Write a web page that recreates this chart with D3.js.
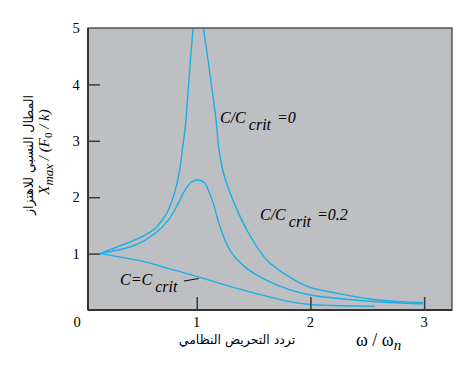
<!DOCTYPE html>
<html><head><meta charset="utf-8">
<script src="https://cdn.jsdelivr.net/npm/d3@7"></script>
<style>body{margin:0;background:#fff}
.serif{font-family:"Liberation Serif","DejaVu Serif","Times New Roman",serif}
.arab{font-family:"DejaVu Sans","Noto Sans",sans-serif}
</style>
</head><body><svg id="c" width="472" height="365"></svg>
<script>
// ---- data ----
const xTicks = [1, 2, 3];
const yTicks = [1, 2, 3, 4];
const yTickLabels = ["1", "2", "3", "4", "5"];
const xTickLabels = ["1", "2", "3"];

const zeta0LeftR = [0.150, 0.340, 0.516, 0.648, 0.736, 0.794, 0.833, 0.859, 0.877, 0.897, 0.919, 0.950, 0.970];
const zeta0LeftV = [1.005, 1.148, 1.295, 1.473, 1.712, 2.007, 2.304, 2.601, 2.897, 3.194, 3.728, 4.564, 5.02];

const zeta0RightR = [1.058, 1.099, 1.135, 1.170, 1.196, 1.240, 1.319, 1.442, 1.618, 1.821, 1.997, 2.201, 2.495, 2.788, 2.993];
const zeta0RightV = [5.02, 4.439, 3.906, 3.372, 2.838, 2.393, 1.948, 1.415, 0.881, 0.578, 0.400, 0.311, 0.205, 0.148, 0.133];

const zeta02R = [0.150, 0.457, 0.633, 0.750, 0.838, 0.897, 0.956, 1.014, 1.073, 1.102, 1.146, 1.205, 1.293, 1.440, 1.616, 1.821, 1.997, 2.199, 2.495, 2.788, 2.990];
const zeta02V = [1.000, 1.148, 1.356, 1.593, 1.890, 2.126, 2.274, 2.304, 2.246, 2.126, 1.890, 1.473, 1.059, 0.738, 0.525, 0.356, 0.267, 0.214, 0.160, 0.125, 0.110];

const critR = [0.150, 0.369, 0.563, 0.765, 0.941, 1.117, 1.293, 1.528, 1.821, 1.997, 2.199, 2.568];
const critV = [1.000, 0.925, 0.845, 0.730, 0.632, 0.525, 0.418, 0.288, 0.148, 0.098, 0.080, 0.068];

// ---- layout ----
const L = 88, R = 452, T = 28, B = 310;
const svg = d3.select("#c");
const x = d3.scaleLinear().domain([0.044, 3.245]).range([L, R]);
const y = d3.scaleLinear().domain([0, 5]).range([B, T]);
const curveCol = "#1aafe6";

svg.append("rect").attr("x", L).attr("y", T).attr("width", R - L).attr("height", B - T)
  .attr("fill", "#bebfc3");

svg.append("clipPath").attr("id", "clip").append("rect")
  .attr("x", L).attr("y", T).attr("width", R - L).attr("height", B - T);

const line = d3.line().x(d => x(d[0])).y(d => y(d[1])).curve(d3.curveCatmullRom.alpha(0.5));
const series = [
  [zeta0LeftR, zeta0LeftV],
  [zeta0RightR, zeta0RightV],
  [zeta02R, zeta02V],
  [critR, critV]
];
const g = svg.append("g").attr("clip-path", "url(#clip)");
series.forEach(([rs, vs]) => {
  g.append("path").datum(rs.map((r, i) => [r, vs[i]]))
    .attr("d", line).attr("fill", "none").attr("stroke", curveCol).attr("stroke-width", 1.4);
});

// axes ticks (inner)
const yAxis = d3.axisRight(y).tickValues(yTicks).tickSize(12).tickFormat("");
svg.append("g").attr("transform", `translate(${L},0)`).call(yAxis)
  .call(s => s.select(".domain").remove())
  .call(s => s.selectAll("line").attr("stroke", "#3a3a3a").attr("stroke-width", 1.5));
const xAxis = d3.axisTop(x).tickValues(xTicks).tickSize(13).tickFormat("");
svg.append("g").attr("transform", `translate(0,${B})`).call(xAxis)
  .call(s => s.select(".domain").remove())
  .call(s => s.selectAll("line").attr("stroke", "#3a3a3a").attr("stroke-width", 1.5));

// frame
svg.append("rect").attr("x", L).attr("y", T).attr("width", R - L).attr("height", B - T)
  .attr("fill", "none").attr("stroke", "#333").attr("stroke-width", 1.2);
svg.append("line").attr("x1", L).attr("x2", L).attr("y1", T).attr("y2", B).attr("stroke", "#333").attr("stroke-width", 2);
svg.append("line").attr("x1", L).attr("x2", R).attr("y1", B).attr("y2", B).attr("stroke", "#333").attr("stroke-width", 2);

// tick labels
const yLabVals = [1, 2, 3, 4, 5];
svg.append("g").selectAll("text").data(yLabVals).join("text")
  .attr("class", "serif")
  .attr("x", 76).attr("y", d => y(d)).attr("dy", "0.36em")
  .attr("text-anchor", "middle").style("font-size", "14.5px")
  .text((d, i) => yTickLabels[i]);
svg.append("g").selectAll("text").data(xTicks).join("text")
  .attr("class", "serif")
  .attr("x", d => x(d)).attr("y", 327)
  .attr("text-anchor", "middle").style("font-size", "14.5px")
  .text((d, i) => xTickLabels[i]);
svg.append("text").attr("class", "serif").attr("x", 77).attr("y", 327).attr("text-anchor", "middle")
  .style("font-size", "14.5px").text("0");

// x title
svg.append("text").attr("class", "arab").attr("x", 237).attr("y", 344).attr("text-anchor", "middle")
  .style("font-size", "12.5px").attr("direction", "rtl").text("تردد التحريض النظامي");
const xt = svg.append("text").attr("class", "serif").attr("x", 356).attr("y", 346)
  .style("font-size", "18px");
xt.append("tspan").text("ω / ω");
xt.append("tspan").attr("dy", 4).style("font-style", "italic").style("font-size", "15px").text("n");

// y title
svg.append("text").attr("class", "arab").attr("transform", "translate(33,155) rotate(-90)")
  .attr("text-anchor", "middle").style("font-size", "12.5px")
  .attr("direction", "rtl").text("المطال النسبي للاهتزاز");
const yt = svg.append("text").attr("class", "serif").attr("transform", "translate(49,152) rotate(-90)")
  .attr("text-anchor", "middle").style("font-style", "italic").style("font-size", "15px");
yt.append("tspan").text("X");
yt.append("tspan").attr("dy", 4).style("font-size", "13px").text("max");
yt.append("tspan").attr("dy", -4).text(" / (F");
yt.append("tspan").attr("dy", 3).style("font-size", "11px").style("font-style", "normal").text("0");
yt.append("tspan").attr("dy", -3).text(" / k)");

// curve labels
function lab(x0, y0, main, sub, tail) {
  const t = svg.append("text").attr("class", "serif").attr("x", x0).attr("y", y0)
    .style("font-style", "italic").style("font-size", "16px");
  t.append("tspan").text(main);
  t.append("tspan").attr("dx", 3).attr("dy", 7).text(sub);
  if (tail) t.append("tspan").attr("dx", 6).attr("dy", -7).text(tail);
}
lab(220, 123, "C/C", "crit", "=0");
lab(260, 220, "C/C", "crit", "=0.2");
lab(120, 285, "C=C", "crit", null);
svg.append("line").attr("x1", 184).attr("y1", 281).attr("x2", 199).attr("y2", 278.5)
  .attr("stroke", "#111").attr("stroke-width", 1.2);
</script></body></html>
